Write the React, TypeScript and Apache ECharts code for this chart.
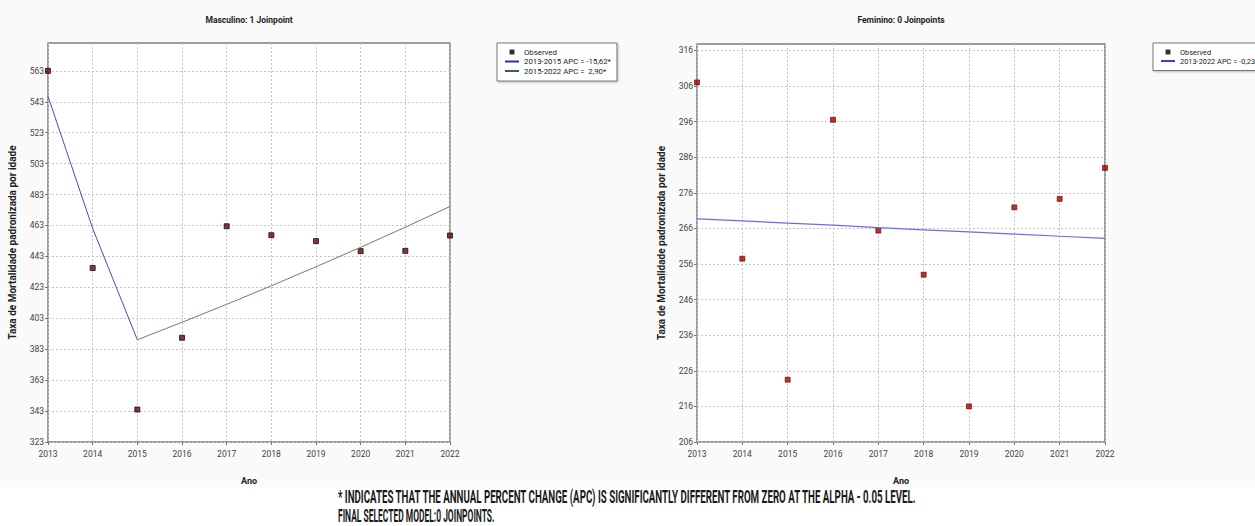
import React, { useEffect, useRef } from "react";
import * as echarts from "echarts";

// ---------- data ----------
const years = [2013, 2014, 2015, 2016, 2017, 2018, 2019, 2020, 2021, 2022];
const masObserved = [563, 435.5, 344, 390.4, 462.5, 456.7, 452.9, 446.4, 446.6, 456.5];
const masSeg1Years = [2013, 2014, 2015];
const masSeg1 = [546.5, 461.1, 389.1];
const masSeg2Years = [2015, 2016, 2017, 2018, 2019, 2020, 2021, 2022];
const masSeg2 = [389.1, 400.4, 412.0, 424.0, 436.3, 448.9, 461.9, 475.3];
const femObserved = [307, 257.5, 223.5, 296.5, 265.4, 253, 216, 271.9, 274.3, 283];
const femTrend = [268.7, 268.1, 267.5, 266.9, 266.2, 265.6, 265.0, 264.4, 263.8, 263.2];
const masTicks = [323, 343, 363, 383, 403, 423, 443, 463, 483, 503, 523, 543, 563];
const femTicks = [206, 216, 226, 236, 246, 256, 266, 276, 286, 296, 306, 316];

const masTitle = "Masculino: 1 Joinpoint";
const femTitle = "Feminino: 0 Joinpoints";
const yName = "Taxa de Mortalidade padronizada por idade";
const xName = "Ano";
const masLegend = ["Observed", "2013-2015 APC = -15,62*", "2015-2022 APC =  2,90*"];
const femLegend = ["Observed", "2013-2022 APC = -0,23"];
const foot1 = "* INDICATES THAT THE ANNUAL PERCENT CHANGE (APC) IS SIGNIFICANTLY DIFFERENT FROM ZERO AT THE ALPHA - 0.05 LEVEL.";
const foot2 = "FINAL SELECTED MODEL:0 JOINPOINTS.";

const C_OBS_L = "#7a0000";
const C_OBS_R = "#a80000";
const C_BLUE = "#4b4bb8";
const C_GREEN = "#5e8a5e";
const C_BLUE_R = "#6a6af0";

const sqIcon = "path://M0,0M14,6M5.5,1.5h3v3h-3z";
const lnIcon = "path://M0,0M14,6M0,2h14v2h-14z";

const FONT = "Roboto, 'DejaVu Sans', sans-serif";

function pairs(xs: number[], ys: number[]) {
  return xs.map((x, i) => [x, ys[i]]);
}

function xAxisCfg(gridIndex: number) {
  return {
    type: "value",
    gridIndex,
    min: 2013,
    max: 2022,
    interval: 1,
    name: xName,
    nameLocation: "middle",
    nameGap: 34,
    nameTextStyle: { fontWeight: "bold", fontSize: 9, color: "#222", fontFamily: FONT },
    axisLine: { show: false },
    axisTick: { show: true, length: 3, lineStyle: { color: "#777" } },
    axisLabel: { fontSize: 8.5, color: "#444", margin: 7, fontFamily: FONT, formatter: (v: number) => String(v) },
    splitLine: { show: true, lineStyle: { color: "#c4c4c4", type: [2, 2], width: 1 } },
  };
}

function yAxisCfg(gridIndex: number, min: number, max: number, ticks: number[]) {
  return {
    type: "value",
    gridIndex,
    min,
    max,
    name: yName,
    nameLocation: "middle",
    nameGap: 31,
    nameTextStyle: { fontWeight: "bold", fontSize: 10, color: "#222", fontFamily: FONT },
    axisLine: { show: false },
    axisTick: { show: true, length: 3, customValues: ticks, lineStyle: { color: "#777" } },
    axisLabel: { fontSize: 8.5, color: "#444", margin: 4, fontFamily: FONT, customValues: ticks },
    splitLine: { show: true, lineStyle: { color: "#c4c4c4", type: [2, 2], width: 1 } },
  };
}

export default function App() {
  const ref = useRef<HTMLDivElement>(null);
  useEffect(() => {
    if (!ref.current) return;
    const chart = echarts.init(ref.current, undefined, { renderer: "svg" });
    const legendBase = {
      orient: "vertical",
      itemWidth: 14,
      itemHeight: 6,
      itemGap: 1.5,
      borderColor: "#777",
      borderWidth: 1,
      backgroundColor: "#fff",
      shadowColor: "rgba(0,0,0,0.25)",
      shadowBlur: 2,
      shadowOffsetX: 1,
      shadowOffsetY: 1,
      selectedMode: false,
    };
    const option: any = {
      animation: false,
      backgroundColor: "#fafafa",
      grid: [
        { left: 48, top: 43, width: 402, height: 399, show: true, backgroundColor: "#fff", borderColor: "#7d7d7d", borderWidth: 1.5 },
        { left: 697, top: 44, width: 408, height: 398, show: true, backgroundColor: "#fff", borderColor: "#7d7d7d", borderWidth: 1.5 },
      ],
      xAxis: [xAxisCfg(0), xAxisCfg(1)],
      yAxis: [yAxisCfg(0, 323, 581, masTicks), yAxisCfg(1, 206, 317.8, femTicks)],
      legend: [
        {
          ...legendBase,
          left: 497,
          top: 43,
          padding: [5, 6, 6, 7],
          textStyle: { fontSize: 7.8, color: "#222", fontFamily: FONT },
          data: [
            { name: masLegend[0], icon: sqIcon, itemStyle: { color: C_OBS_L } },
            { name: masLegend[1], icon: lnIcon, itemStyle: { color: "#2f2f8f" } },
            { name: masLegend[2], icon: lnIcon, itemStyle: { color: "#2f6f2f" } },
          ],
        },
        {
          ...legendBase,
          left: 1153,
          top: 43,
          padding: [5, 4, 6, 7],
          textStyle: { fontSize: 7.4, color: "#222", fontFamily: FONT },
          data: [
            { name: femLegend[0], icon: sqIcon, itemStyle: { color: C_OBS_R } },
            { name: femLegend[1], icon: lnIcon, itemStyle: { color: "#3a3ae0" } },
          ],
        },
      ],
      series: [
        {
          name: masLegend[1], type: "line", xAxisIndex: 0, yAxisIndex: 0, symbol: "none",
          data: pairs(masSeg1Years, masSeg1), itemStyle: { color: C_BLUE }, lineStyle: { color: C_BLUE, width: 1 },
        },
        {
          name: masLegend[2], type: "line", xAxisIndex: 0, yAxisIndex: 0, symbol: "none",
          data: pairs(masSeg2Years, masSeg2), itemStyle: { color: C_GREEN }, lineStyle: { color: C_GREEN, width: 1 },
        },
        {
          name: masLegend[0], type: "scatter", xAxisIndex: 0, yAxisIndex: 0, symbol: "rect", symbolSize: 5,
          data: pairs(years, masObserved), itemStyle: { color: C_OBS_L, borderColor: "#111", borderWidth: 1 },
        },
        {
          name: femLegend[1], type: "line", xAxisIndex: 1, yAxisIndex: 1, symbol: "none",
          data: pairs(years, femTrend), itemStyle: { color: C_BLUE_R }, lineStyle: { color: C_BLUE_R, width: 1.2 },
        },
        {
          name: femLegend[0], type: "scatter", xAxisIndex: 1, yAxisIndex: 1, symbol: "rect", symbolSize: 5,
          data: pairs(years, femObserved), itemStyle: { color: C_OBS_R, borderColor: "#6a0000", borderWidth: 0.8 },
        },
      ],
      graphic: [
        { type: "rect", left: 0, top: 487, shape: { x: 0, y: 0, width: 1255, height: 40 }, style: { fill: "#ffffff" }, silent: true },
        {
          type: "text", x: 249, y: 20,
          style: { text: masTitle, align: "center", verticalAlign: "middle", textAlign: "center", textVerticalAlign: "middle", fontSize: 8.5, fontWeight: "bold", fontFamily: FONT, fill: "#222" },
        },
        {
          type: "text", x: 901, y: 20,
          style: { text: femTitle, align: "center", verticalAlign: "middle", textAlign: "center", textVerticalAlign: "middle", fontSize: 8.5, fontWeight: "bold", fontFamily: FONT, fill: "#222" },
        },
        {
          type: "text", x: 338, y: 497, scaleX: 0.54,
          style: { text: foot1, align: "left", verticalAlign: "middle", textAlign: "left", textVerticalAlign: "middle", fontSize: 18, fontWeight: "bold", fontFamily: FONT, fill: "#1a1a1a" },
        },
        {
          type: "text", x: 338, y: 516, scaleX: 0.47,
          style: { text: foot2, align: "left", verticalAlign: "middle", textAlign: "left", textVerticalAlign: "middle", fontSize: 18, fontWeight: "bold", fontFamily: FONT, fill: "#1a1a1a" },
        },
      ],
    };
    chart.setOption(option);
    return () => chart.dispose();
  }, []);
  return <div ref={ref} style={{ position: "absolute", left: 0, top: 0, width: 1255, height: 526 }} />;
}
